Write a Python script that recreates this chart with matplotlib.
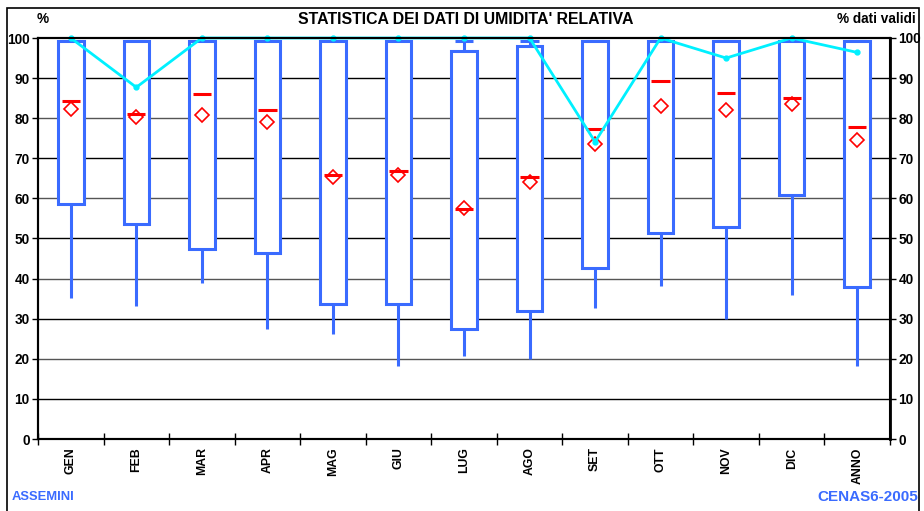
import matplotlib
matplotlib.use("Agg")
import matplotlib.pyplot as plt
from matplotlib.patches import Rectangle
import numpy as np

plt.rcParams['font.family'] = ['Liberation Sans', 'DejaVu Sans']

categories = ["GEN", "FEB", "MAR", "APR", "MAG", "GIU", "LUG", "AGO", "SET", "OTT", "NOV", "DIC", "ANNO"]
whisker_min = [35.2, 33.2, 39.0, 27.4, 26.1, 18.2, 20.8, 19.9, 32.7, 38.2, 29.9, 36.0, 18.2]
box_low = [58.6, 53.5, 47.4, 46.3, 33.7, 33.7, 27.4, 31.9, 42.6, 51.4, 52.8, 60.8, 37.8]
box_high = [99.2, 99.2, 99.2, 99.2, 99.2, 99.2, 96.8, 98.0, 99.2, 99.2, 99.2, 99.2, 99.2]
whisker_max = [99.3, 99.3, 99.3, 99.3, 99.3, 99.3, 99.3, 99.3, 99.3, 99.3, 99.3, 99.3, 99.3]
median = [84.4, 81.1, 86.0, 82.0, 65.9, 66.8, 57.4, 65.3, 77.2, 89.4, 86.3, 85.0, 77.8]
mean = [82.4, 80.2, 80.9, 79.1, 65.3, 65.9, 57.5, 64.2, 73.5, 83.0, 82.0, 83.5, 74.6]
valid_pct = [100, 87.7, 100, 100, 100, 100, 100, 100, 74.1, 100, 95.0, 100, 96.4]

W, H = 924, 511
fig = plt.figure(figsize=(W / 100, H / 100), dpi=100)
fig.patches.append(Rectangle((7 / W, -0.05), (919 - 7) / W, 1.05 - 8 / H,
                             transform=fig.transFigure, fill=False,
                             edgecolor='black', linewidth=1.2))

ax = fig.add_axes([38 / W, (H - 439) / H, (890 - 38) / W, (439 - 38) / H])
n = len(categories)
x = np.arange(n)
ax.set_xlim(-0.5, n - 0.5)
ax.set_ylim(0, 100)

blue = '#3A6BFF'
red = '#FF0000'
cyan = '#00F0FF'

for v in range(10, 100, 10):
    ax.axhline(v, color='black' if v % 20 else '#555555', linewidth=1.0, zorder=1)

bw = 0.39
for i in range(n):
    ax.vlines(x[i], whisker_min[i], box_low[i], color=blue, linewidth=2.2, zorder=3)
    ax.vlines(x[i], box_high[i], whisker_max[i], color=blue, linewidth=2.2, zorder=3)
    ax.hlines(whisker_max[i], x[i] - 0.14, x[i] + 0.14, color=blue, linewidth=2.2, zorder=3)
    ax.add_patch(Rectangle((x[i] - bw / 2, box_low[i]), bw, box_high[i] - box_low[i],
                           facecolor='white', edgecolor=blue, linewidth=2.2, zorder=4))
    ax.hlines(median[i], x[i] - 0.14, x[i] + 0.14, color=red, linewidth=2.2, zorder=6)

ax.plot(x, mean, linestyle='none', marker='D', markersize=7, markerfacecolor='none',
        markeredgecolor=red, markeredgewidth=1.2, zorder=7)
ax.plot(x, valid_pct, color=cyan, linewidth=2.0, marker='o', markersize=3.5,
        markerfacecolor=cyan, markeredgecolor=cyan, zorder=8, clip_on=False)

ax.set_xticks(x)
ax.set_xticklabels(categories, rotation=90, fontsize=8.8, fontweight='bold')
ax.set_xticks(np.arange(-0.5, n, 1.0), minor=True)
ax.tick_params(axis='x', which='major', length=0, pad=6)
ax.tick_params(axis='x', which='minor', length=8, direction='inout', width=1)

ax.set_yticks(range(0, 101, 10))
ax.tick_params(axis='y', which='major', length=4, direction='out', width=1,
               labelsize=9.8, pad=2)
for lab in ax.get_yticklabels():
    lab.set_fontweight('bold')

ax2 = ax.twinx()
ax2.set_ylim(0, 100)
ax2.set_yticks(range(0, 101, 10))
ax2.tick_params(axis='y', length=4, direction='out', width=1, labelsize=9.8, pad=2)
for lab in ax2.get_yticklabels():
    lab.set_fontweight('bold')

for a in (ax, ax2):
    for s in a.spines.values():
        s.set_color('black')
        s.set_linewidth(1.5)
ax2.spines['right'].set_linewidth(2.0)

fig.text(43 / W, 1 - 19 / H, '%', ha='center', va='center', fontsize=9.8, fontweight='bold')
fig.text(466 / W, 1 - 20 / H, "STATISTICA DEI DATI DI UMIDITA' RELATIVA", ha='center',
         va='center', fontsize=11.4, fontweight='bold')
fig.text(916 / W, 1 - 19 / H, '% dati validi', ha='right', va='center', fontsize=9.8,
         fontweight='bold')
fig.text(12 / W, 1 - 497 / H, 'ASSEMINI', ha='left', va='center', fontsize=9.4,
         fontweight='bold', color=blue)
fig.text(918 / W, 1 - 497 / H, 'CENAS6-2005', ha='right', va='center', fontsize=11,
         fontweight='bold', color=blue)

fig.savefig('out.png', dpi=100)
